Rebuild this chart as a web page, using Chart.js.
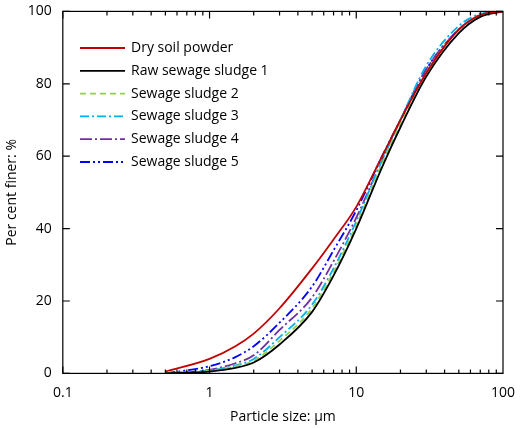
<!DOCTYPE html>
<html><head><meta charset="utf-8">
<script src="https://cdn.jsdelivr.net/npm/chart.js@4"></script>
<style>body{margin:0;background:#fff}#wrap{width:520px;height:429px}</style>
</head><body><div id="wrap"><canvas id="c"></canvas></div>
<script>
const sizes = [0.5, 1, 1.5, 2, 3, 5, 7, 10, 15, 20, 30, 50, 70, 100];
const drySoil = [0.5, 4, 7.5, 11, 18, 29, 37, 46, 60, 70, 83, 95, 99, 100];
const raw1 = [0, 0.5, 1.5, 3, 8, 17, 27, 40, 57, 68, 82, 94, 98.5, 100];
const sludge2 = [0, 0.7, 2, 3.5, 9, 18, 28, 41, 58, 69, 83, 95, 99, 100];
const sludge3 = [0, 0.8, 2.2, 4, 10, 19, 29, 42, 59, 70, 85, 96, 99.3, 100];
const sludge4 = [0, 1, 2.8, 5, 12, 21, 31, 43, 59, 70, 84, 95, 99, 100];
const sludge5 = [0, 2, 4.5, 7.5, 14, 24, 34, 45, 60, 70, 84, 95, 99, 100];
const names = ['Dry soil powder', 'Raw sewage sludge 1', 'Sewage sludge 2', 'Sewage sludge 3', 'Sewage sludge 4', 'Sewage sludge 5'];
const colors = ['#c00000', '#000000', '#92d050', '#00b0f0', '#7030a0', '#0000ff'];
const dashes = [[], [], [6, 4], [9, 3, 2, 3], [12, 3, 2, 3], [10, 3, 2, 3, 2, 3]];
const series = [drySoil, raw1, sludge2, sludge3, sludge4, sludge5];

const font = 'Open Sans';
const frame = {
  id: 'frame',
  afterDraw(chart) {
    const {ctx, chartArea: a, scales: {x, y}} = chart;
    ctx.save();
    ctx.strokeStyle = '#000';
    ctx.lineWidth = 1.2;
    ctx.setLineDash([]);
    ctx.strokeRect(a.left, a.top, a.right - a.left, a.bottom - a.top);
    ctx.beginPath();
    for (let d = 0.1; d < 100; d *= 10) {
      for (let m = 1; m < 10; m++) {
        const px = x.getPixelForValue(d * m);
        const len = m === 1 ? 7 : 4;
        ctx.moveTo(px, a.bottom); ctx.lineTo(px, a.bottom - len);
        ctx.moveTo(px, a.top); ctx.lineTo(px, a.top + len);
      }
    }
    for (let v = 0; v <= 100; v += 20) {
      const py = y.getPixelForValue(v);
      ctx.moveTo(a.left, py); ctx.lineTo(a.left + 7, py);
      ctx.moveTo(a.right, py); ctx.lineTo(a.right - 7, py);
    }
    ctx.stroke();
    // legend
    ctx.font = '14px "' + font + '"';
    ctx.textBaseline = 'middle';
    chart.data.datasets.forEach((ds, i) => {
      const ly = 48 + i * 22.8;
      ctx.strokeStyle = ds.borderColor;
      ctx.lineWidth = 1.8;
      ctx.setLineDash(ds.borderDash);
      ctx.beginPath(); ctx.moveTo(80, ly); ctx.lineTo(125, ly); ctx.stroke();
      ctx.fillStyle = '#000';
      ctx.fillText(ds.label, 131, ly);
    });
    ctx.restore();
  }
};

new Chart(document.getElementById('c'), {
  type: 'line',
  data: {
    datasets: series.map((s, i) => ({
      label: names[i],
      data: sizes.map((v, j) => ({x: v, y: s[j]})),
      borderColor: colors[i],
      borderDash: dashes[i],
      borderWidth: 1.8,
      pointRadius: 0,
      cubicInterpolationMode: 'monotone',
      fill: false
    }))
  },
  options: {
    animation: false,
    responsive: true,
    maintainAspectRatio: false,
    layout: {padding: {right: 17, top: 10}},
    plugins: {legend: {display: false}, tooltip: {enabled: false}},
    scales: {
      x: {
        type: 'logarithmic', min: 0.1, max: 100,
        grid: {display: false},
        border: {display: false},
        afterBuildTicks: s => { s.ticks = [0.1, 1, 10, 100].map(v => ({value: v})); },
        ticks: {color: '#000', font: {family: font, size: 14}, callback: v => String(v), maxRotation: 0},
        title: {display: true, text: 'Particle size: µm', color: '#000', font: {family: font, size: 14}}
      },
      y: {
        min: 0, max: 100,
        grid: {display: false},
        border: {display: false},
        ticks: {stepSize: 20, color: '#000', font: {family: font, size: 14}},
        title: {display: true, text: 'Per cent finer: %', color: '#000', font: {family: font, size: 14}}
      }
    }
  },
  plugins: [frame]
});
</script></body></html>
